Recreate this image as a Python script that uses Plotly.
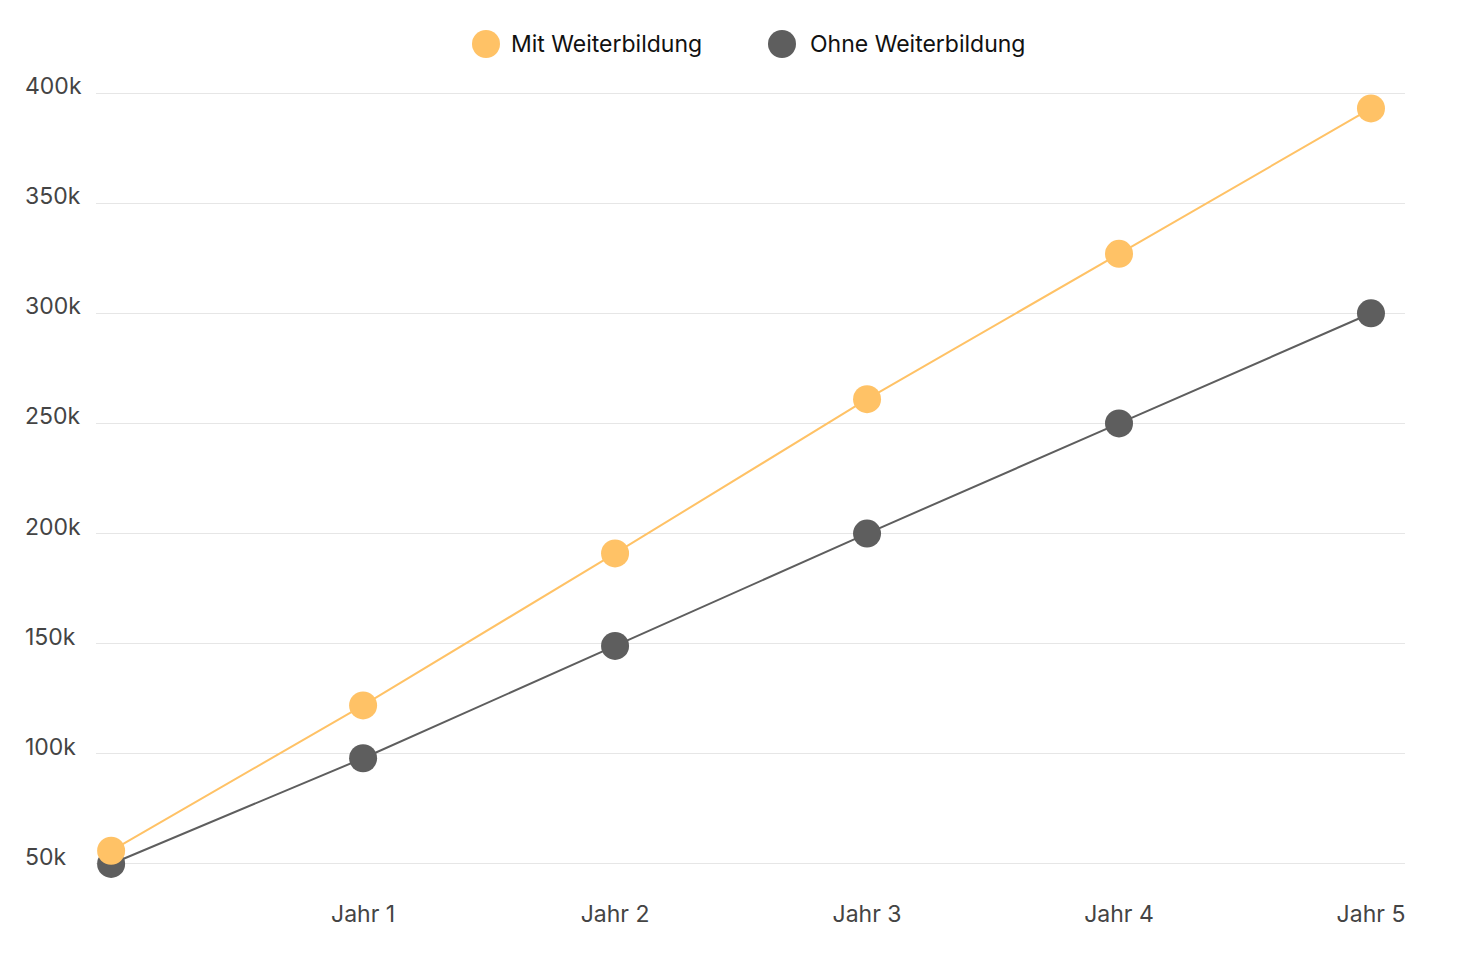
import plotly.graph_objects as go

years = [0, 1, 2, 3, 4, 5]
year_labels = ["Jahr 1", "Jahr 2", "Jahr 3", "Jahr 4", "Jahr 5"]
mit_weiterbildung = [56, 122, 191, 261, 327, 393]
ohne_weiterbildung = [50, 98, 149, 200, 250, 300]
y_ticks = [50, 100, 150, 200, 250, 300, 350, 400]
y_tick_labels = ["50k", "100k", "150k", "200k", "250k", "300k", "350k", "400k"]
series_names = ["Mit Weiterbildung", "Ohne Weiterbildung"]

ORANGE = "#FFC266"
DARK = "#5E5E5E"
FONT = "Inter, 'DM Sans', sans-serif"
FS = 23

fig = go.Figure()
fig.add_trace(go.Scatter(
    x=years, y=ohne_weiterbildung, name=series_names[1], mode="lines+markers",
    line=dict(color=DARK, width=2), marker=dict(size=28, color=DARK),
    cliponaxis=False, showlegend=False))
fig.add_trace(go.Scatter(
    x=years, y=mit_weiterbildung, name=series_names[0], mode="lines+markers",
    line=dict(color=ORANGE, width=2), marker=dict(size=28, color=ORANGE),
    cliponaxis=False, showlegend=False))

L, R, T, B = 96, 75, 82, 74
W, H = 1480, 960
pw = W - L - R
ph = H - T - B

annotations = []
for v, lab in zip(y_ticks, y_tick_labels):
    annotations.append(dict(
        x=(23 - L) / pw, xref="paper", xanchor="left", y=v, yref="y",
        yshift=7, text=lab, showarrow=False,
        font=dict(family=FONT, size=FS, color="#444444")))

shapes = []
legend_items = [(series_names[0], ORANGE, 486, 509), (series_names[1], DARK, 782, 808)]
ly = (H - B - 44) / ph
for name, col, cx, tx in legend_items:
    shapes.append(dict(
        type="circle", xref="paper", yref="paper",
        xsizemode="pixel", ysizemode="pixel",
        xanchor=(cx - L) / pw, yanchor=ly,
        x0=-14, x1=14, y0=-14, y1=14,
        fillcolor=col, line=dict(width=0)))
    annotations.append(dict(
        x=(tx - L) / pw, xref="paper", xanchor="left", y=ly, yref="paper",
        yanchor="middle", text=name, showarrow=False,
        font=dict(family=FONT, size=FS, color="#111111")))

fig.update_layout(
    width=W, height=H,
    margin=dict(l=L, r=R, t=T, b=B),
    plot_bgcolor="white", paper_bgcolor="white",
    font=dict(family=FONT, size=FS, color="#444444"),
    showlegend=False,
    annotations=annotations,
    shapes=shapes,
)
fig.update_xaxes(
    range=[-0.06, 5.135], tickvals=years[1:], ticktext=year_labels,
    showgrid=False, zeroline=False, showline=False, ticks="",
    ticklabelstandoff=12,
    tickfont=dict(family=FONT, size=FS, color="#444444"))
fig.update_yaxes(
    range=[40, 405], tickvals=y_ticks, showticklabels=False,
    showgrid=True, gridcolor="#E6E6E6", gridwidth=1,
    zeroline=False, showline=False, ticks="")

fig.write_html("out.html")
